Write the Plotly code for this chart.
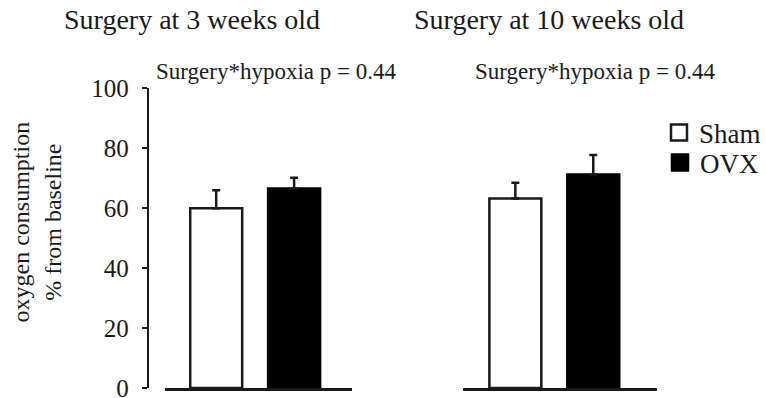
import plotly.graph_objects as go

W, H = 766, 398

groups = ["Surgery at 3 weeks old", "Surgery at 10 weeks old"]
conditions = ["Sham", "OVX"]
sham_mean = [59.9, 63.2]
sham_err = [6.0, 5.2]
ovx_mean = [66.5, 71.2]
ovx_err = [3.6, 6.5]
p_labels = ["Surgery*hypoxia p = 0.44", "Surgery*hypoxia p = 0.44"]
y_ticks = [0, 20, 40, 60, 80, 100]
y_title = "oxygen consumption<br>% from baseline"

SERIF = "Liberation Serif, Times New Roman, serif"
INK = "#1a1a1a"

def px_x(p):
    return p / W

def px_y(p):
    return (H - p) / H

fig = go.Figure()

err_style = dict(type="data", symmetric=False, color=INK, thickness=2.5, width=4)
for i in range(2):
    xa = "x" if i == 0 else "x2"
    ya = "y" if i == 0 else "y2"
    fig.add_trace(go.Bar(
        x=[conditions[0]], y=[sham_mean[i]], name="Sham", showlegend=False, width=0.667,
        marker=dict(color="white", line=dict(color=INK, width=2.5)),
        error_y=dict(array=[sham_err[i]], arrayminus=[0], **err_style),
        xaxis=xa, yaxis=ya, hoverinfo="skip",
    ))
    fig.add_trace(go.Bar(
        x=[conditions[1]], y=[ovx_mean[i]], name="OVX", showlegend=False, width=0.667,
        marker=dict(color="black", line=dict(color="black", width=2.5)),
        error_y=dict(array=[ovx_err[i]], arrayminus=[0], **err_style),
        xaxis=xa, yaxis=ya, hoverinfo="skip",
    ))

# legend keys (one per condition, each in its own legend box)
fig.add_trace(go.Scatter(x=[None], y=[None], mode="markers", name="Sham", legend="legend",
                         marker=dict(symbol="square", size=16, color="white",
                                     line=dict(color=INK, width=2.5))))
fig.add_trace(go.Scatter(x=[None], y=[None], mode="markers", name="OVX", legend="legend2",
                         marker=dict(symbol="square", size=16, color="black",
                                     line=dict(color="black", width=2.5))))

ydom = [px_y(388), px_y(88)]
axis_common = dict(showgrid=False, zeroline=False, showticklabels=False, ticks="",
                   showline=True, linecolor=INK, linewidth=2.5, type="category",
                   categoryorder="array", categoryarray=conditions)
legend_common = dict(xanchor="left", yanchor="middle", itemsizing="trace",
                     font=dict(family=SERIF, size=27, color=INK), bgcolor="rgba(0,0,0,0)")

fig.update_layout(
    width=W, height=H,
    margin=dict(l=0, r=0, t=0, b=0),
    paper_bgcolor="white", plot_bgcolor="white",
    barmode="overlay",
    hovermode=False,
    xaxis=dict(domain=[px_x(165), px_x(352)], range=[-0.66, 1.737], anchor="y", **axis_common),
    xaxis2=dict(domain=[px_x(464), px_x(658)], range=[-0.667, 1.82], anchor="y2", **axis_common),
    yaxis=dict(domain=ydom, range=[0, 100], anchor="free", position=px_x(148),
               tickvals=y_ticks, ticks="outside", ticklen=5, tickwidth=2.5, tickcolor=INK,
               showline=True, linecolor=INK, linewidth=2.5, showgrid=False, zeroline=False,
               ticklabelstandoff=8, ticklabeloverflow="allow", automargin=False,
               tickfont=dict(family=SERIF, size=25, color=INK)),
    yaxis2=dict(domain=ydom, range=[0, 100], anchor="x2", visible=False),
    legend=dict(x=px_x(660), y=px_y(133), **legend_common),
    legend2=dict(x=px_x(660), y=px_y(163), **legend_common),
    showlegend=True,
)

ann = []
title_x = [192.5, 550]
p_x = [276, 596]
for i in range(2):
    ann.append(dict(text=groups[i], x=px_x(title_x[i]), y=px_y(19), xref="paper", yref="paper",
                    showarrow=False, xanchor="center", yanchor="middle",
                    font=dict(family=SERIF, size=28, color=INK)))
    ann.append(dict(text=p_labels[i], x=px_x(p_x[i]), y=px_y(71), xref="paper", yref="paper",
                    showarrow=False, xanchor="center", yanchor="middle",
                    font=dict(family=SERIF, size=23, color=INK)))
ann.append(dict(text=y_title, x=px_x(36.5), y=px_y(222), xref="paper", yref="paper",
                showarrow=False, xanchor="center", yanchor="middle", textangle=-90,
                font=dict(family=SERIF, size=24, color=INK)))
fig.update_layout(annotations=ann)

# remove the default 8px page margin so the 766x398 figure fills the window exactly
fig.write_html("out.html", config={"displayModeBar": False, "staticPlot": True},
               post_script="document.body.style.margin='0px';")
